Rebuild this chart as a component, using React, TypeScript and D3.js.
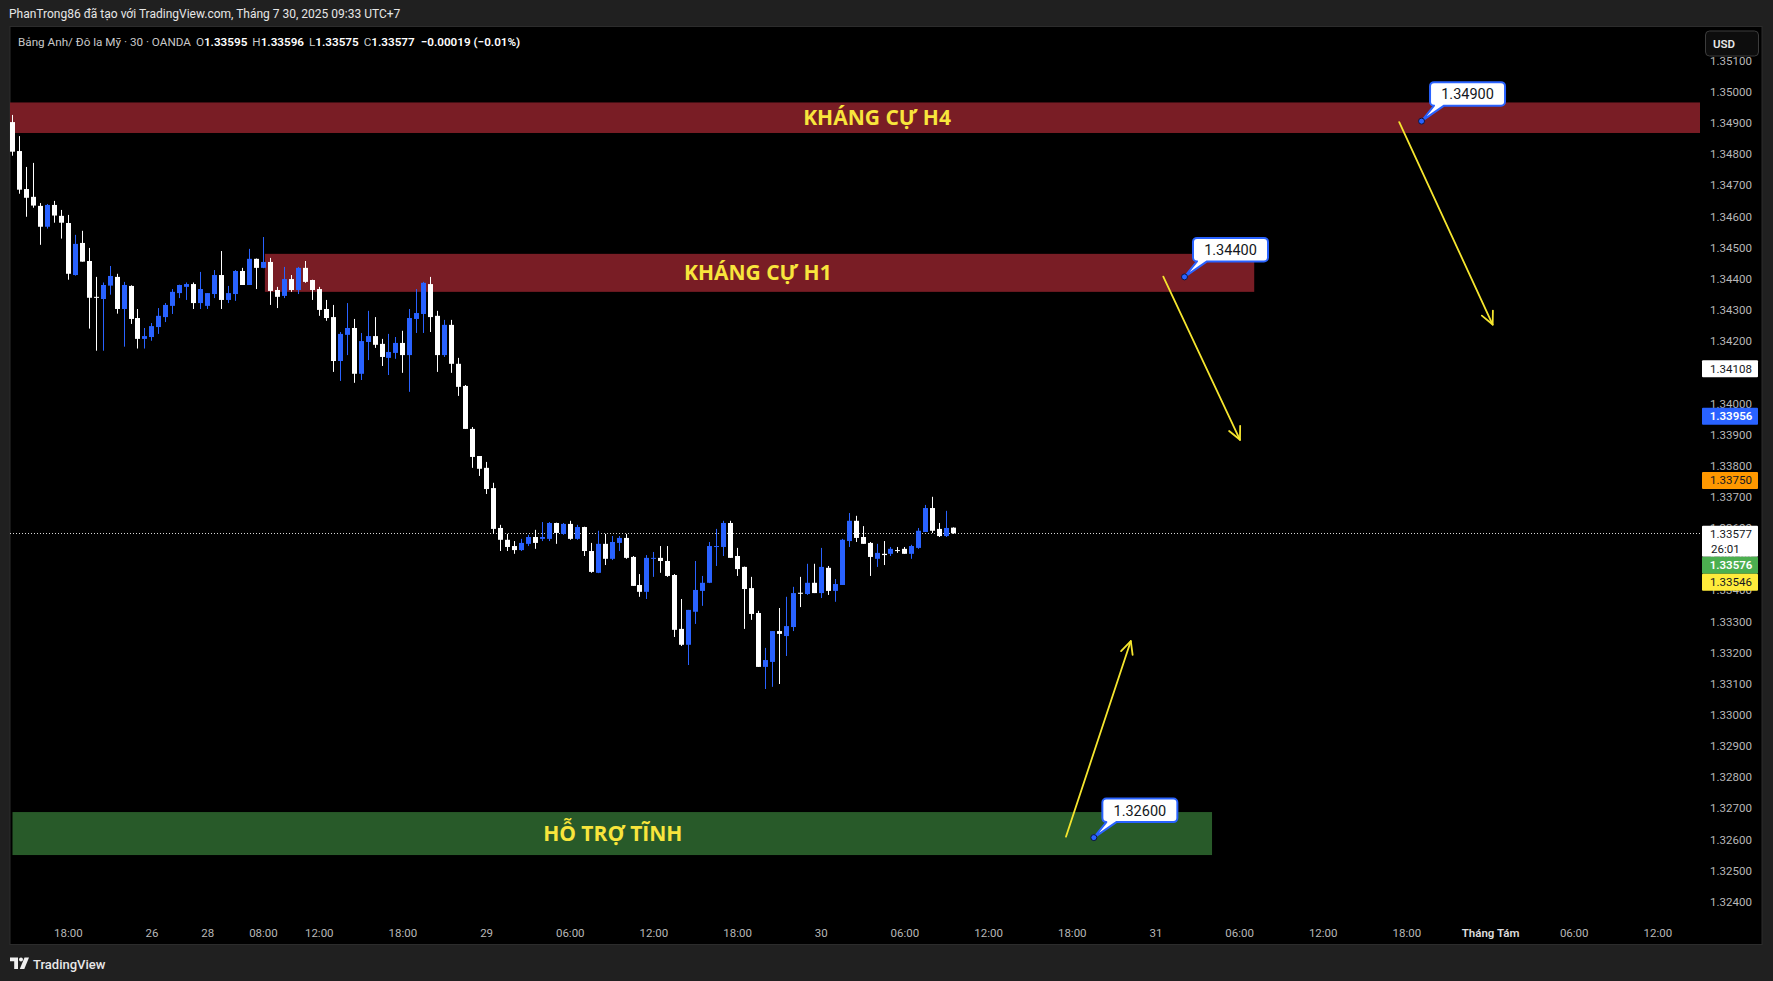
import React from "react";
import * as d3 from "d3";

// ---------- DATA ----------
const candleOpen = [
  1.34897, 1.34804, 1.34682, 1.34657, 1.34628, 1.34561, 1.34631, 1.34596, 1.34573, 1.34406,
  1.34509, 1.34451, 1.34336, 1.34329, 1.34372, 1.34400, 1.34297, 1.34371, 1.34268, 1.34201,
  1.34207, 1.34239, 1.34271, 1.34307, 1.34348, 1.34368, 1.34377, 1.34316, 1.34307, 1.34345,
  1.34406, 1.34326, 1.34345, 1.34419, 1.34374, 1.34458, 1.34429, 1.34448, 1.34358, 1.34339,
  1.34393, 1.34358, 1.34429, 1.34390, 1.34361, 1.34297, 1.34271, 1.34130, 1.34214, 1.34236,
  1.34089, 1.34191, 1.34210, 1.34185, 1.34140, 1.34156, 1.34188, 1.34149, 1.34265, 1.34281,
  1.34377, 1.34275, 1.34149, 1.34246, 1.34121, 1.34050, 1.33912, 1.33825, 1.33787, 1.33722,
  1.33594, 1.33556, 1.33536, 1.33523, 1.33543, 1.33565, 1.33559, 1.33559, 1.33610, 1.33575,
  1.33607, 1.33559, 1.33597, 1.33520, 1.33450, 1.33543, 1.33495, 1.33546, 1.33562, 1.33501,
  1.33411, 1.33389, 1.33495, 1.33498, 1.33488, 1.33443, 1.33270, 1.33219, 1.33325, 1.33392,
  1.33418, 1.33533, 1.33533, 1.33610, 1.33504, 1.33469, 1.33401, 1.33321, 1.33148, 1.33164,
  1.33263, 1.33247, 1.33276, 1.33386, 1.33382, 1.33418, 1.33385, 1.33466, 1.33392, 1.33411,
  1.33552, 1.33617, 1.33565, 1.33546, 1.33495, 1.33511, 1.33511, 1.33523, 1.33527, 1.33511,
  1.33530, 1.33581, 1.33658, 1.33591, 1.33568, 1.33595,
];
const candleHigh = [
  1.34920, 1.34852, 1.34753, 1.34766, 1.34637, 1.34634, 1.34644, 1.34615, 1.34599, 1.34535,
  1.34548, 1.34493, 1.34400, 1.34382, 1.34435, 1.34410, 1.34384, 1.34373, 1.34297, 1.34236,
  1.34252, 1.34300, 1.34316, 1.34361, 1.34375, 1.34382, 1.34382, 1.34416, 1.34348, 1.34422,
  1.34483, 1.34371, 1.34422, 1.34429, 1.34490, 1.34459, 1.34528, 1.34461, 1.34368, 1.34432,
  1.34406, 1.34432, 1.34451, 1.34391, 1.34368, 1.34326, 1.34310, 1.34223, 1.34316, 1.34265,
  1.34220, 1.34291, 1.34271, 1.34201, 1.34217, 1.34207, 1.34227, 1.34297, 1.34361, 1.34384,
  1.34400, 1.34291, 1.34262, 1.34262, 1.34140, 1.34053, 1.33918, 1.33825, 1.33806, 1.33739,
  1.33604, 1.33575, 1.33552, 1.33559, 1.33572, 1.33588, 1.33613, 1.33613, 1.33611, 1.33610,
  1.33617, 1.33604, 1.33598, 1.33546, 1.33585, 1.33575, 1.33568, 1.33568, 1.33575, 1.33504,
  1.33446, 1.33507, 1.33517, 1.33536, 1.33536, 1.33446, 1.33366, 1.33331, 1.33488, 1.33440,
  1.33549, 1.33591, 1.33617, 1.33617, 1.33530, 1.33470, 1.33437, 1.33328, 1.33209, 1.33263,
  1.33337, 1.33373, 1.33405, 1.33437, 1.33479, 1.33479, 1.33530, 1.33472, 1.33430, 1.33559,
  1.33642, 1.33633, 1.33600, 1.33549, 1.33543, 1.33552, 1.33533, 1.33533, 1.33533, 1.33540,
  1.33594, 1.33668, 1.33694, 1.33610, 1.33649, 1.33596,
];
const candleLow = [
  1.34789, 1.34667, 1.34593, 1.34622, 1.34503, 1.34555, 1.34574, 1.34523, 1.34391, 1.34404,
  1.34449, 1.34234, 1.34163, 1.34163, 1.34343, 1.34282, 1.34176, 1.34249, 1.34170, 1.34170,
  1.34195, 1.34217, 1.34255, 1.34281, 1.34332, 1.34326, 1.34297, 1.34297, 1.34297, 1.34332,
  1.34297, 1.34316, 1.34323, 1.34374, 1.34374, 1.34361, 1.34428, 1.34310, 1.34300, 1.34332,
  1.34352, 1.34345, 1.34381, 1.34326, 1.34275, 1.34259, 1.34095, 1.34066, 1.34149, 1.34060,
  1.34069, 1.34133, 1.34172, 1.34114, 1.34085, 1.34137, 1.34092, 1.34031, 1.34220, 1.34220,
  1.34223, 1.34095, 1.34143, 1.34092, 1.34018, 1.33912, 1.33787, 1.33761, 1.33703, 1.33575,
  1.33520, 1.33520, 1.33511, 1.33520, 1.33536, 1.33527, 1.33552, 1.33552, 1.33543, 1.33572,
  1.33556, 1.33556, 1.33504, 1.33450, 1.33449, 1.33475, 1.33491, 1.33520, 1.33495, 1.33408,
  1.33373, 1.33366, 1.33437, 1.33450, 1.33437, 1.33244, 1.33215, 1.33154, 1.33286, 1.33344,
  1.33417, 1.33472, 1.33504, 1.33498, 1.33440, 1.33270, 1.33299, 1.33148, 1.33077, 1.33084,
  1.33093, 1.33183, 1.33263, 1.33340, 1.33379, 1.33385, 1.33369, 1.33379, 1.33357, 1.33411,
  1.33533, 1.33549, 1.33543, 1.33440, 1.33469, 1.33475, 1.33504, 1.33514, 1.33511, 1.33495,
  1.33527, 1.33581, 1.33578, 1.33565, 1.33565, 1.33575,
];
const candleClose = [
  1.34802, 1.34680, 1.34654, 1.34629, 1.34561, 1.34631, 1.34597, 1.34574, 1.34410, 1.34506,
  1.34449, 1.34333, 1.34334, 1.34374, 1.34403, 1.34297, 1.34374, 1.34265, 1.34201, 1.34210,
  1.34242, 1.34275, 1.34310, 1.34352, 1.34374, 1.34377, 1.34316, 1.34361, 1.34348, 1.34406,
  1.34326, 1.34348, 1.34419, 1.34374, 1.34458, 1.34429, 1.34448, 1.34355, 1.34336, 1.34393,
  1.34358, 1.34429, 1.34384, 1.34358, 1.34294, 1.34268, 1.34130, 1.34217, 1.34236, 1.34089,
  1.34194, 1.34210, 1.34182, 1.34143, 1.34159, 1.34188, 1.34149, 1.34268, 1.34284, 1.34381,
  1.34271, 1.34149, 1.34246, 1.34121, 1.34047, 1.33912, 1.33822, 1.33784, 1.33719, 1.33591,
  1.33556, 1.33533, 1.33523, 1.33546, 1.33565, 1.33546, 1.33565, 1.33610, 1.33578, 1.33607,
  1.33559, 1.33597, 1.33520, 1.33453, 1.33543, 1.33495, 1.33549, 1.33562, 1.33498, 1.33408,
  1.33389, 1.33498, 1.33498, 1.33488, 1.33440, 1.33267, 1.33219, 1.33331, 1.33395, 1.33418,
  1.33536, 1.33536, 1.33610, 1.33498, 1.33462, 1.33398, 1.33318, 1.33148, 1.33170, 1.33263,
  1.33254, 1.33279, 1.33385, 1.33384, 1.33418, 1.33385, 1.33469, 1.33392, 1.33414, 1.33556,
  1.33617, 1.33562, 1.33543, 1.33501, 1.33514, 1.33507, 1.33527, 1.33520, 1.33511, 1.33536,
  1.33585, 1.33658, 1.33585, 1.33568, 1.33594, 1.33577,
];

const priceTicks = [
  1.351, 1.35, 1.349, 1.348, 1.347, 1.346, 1.345, 1.344, 1.343, 1.342, 1.341, 1.34, 1.339,
  1.338, 1.337, 1.336, 1.335, 1.334, 1.333, 1.332, 1.331, 1.33, 1.329, 1.328, 1.327, 1.326,
  1.325, 1.324,
];

const timeLabelBars = [8, 20, 28, 36, 44, 56, 68, 80, 92, 104, 116, 128, 140, 152, 164, 176, 188, 200, 212, 224, 236];
const timeLabelTexts = [
  "18:00", "26", "28", "08:00", "12:00", "18:00", "29", "06:00", "12:00", "18:00", "30",
  "06:00", "12:00", "18:00", "31", "06:00", "12:00", "18:00", "Tháng Tám", "06:00", "12:00",
];

const zoneLabels = ["KHÁNG CỰ H4", "KHÁNG CỰ H1", "HỖ TRỢ TĨNH"];
const zoneTop = [1.3496, 1.34474, 1.32682];
const zoneBottom = [1.34862, 1.34352, 1.32544];
const zoneStartBar = [-5, 36.2, 0];
const zoneEndBar = [250, 178.1, 172.05];
const zoneLabelBar = [124, 106.9, 86.1];

const calloutBars = [202.1, 168.1, 155.1];
const calloutPrices = [1.349, 1.344, 1.326];

const arrowStartBar = [198.9, 165.06, 151.1];
const arrowStartPrice = [1.34897, 1.34401, 1.32603];
const arrowEndBar = [212.3, 176.06, 160.4];
const arrowEndPrice = [1.34247, 1.33877, 1.33231];

const markerPrices = [1.34108, 1.33956, 1.3375, 1.33577, 1.33576, 1.33546];
const markerKinds = ["white", "blue", "orange", "last", "green", "yellow"];

const lastPrice = 1.33577;
const countdown = "26:01";

// ---------- STYLE ----------
const FONT = "Roboto, 'Noto Sans', Arial, sans-serif";
const PAGE_BG = "#202020";
const UP = "#2962ff";
const DOWN = "#ffffff";

const markerStyle: Record<string, { fill: string; text: string }> = {
  white: { fill: "#ffffff", text: "#131722" },
  blue: { fill: "#2962ff", text: "#ffffff" },
  orange: { fill: "#ff9800", text: "#131722" },
  last: { fill: "#ffffff", text: "#131722" },
  green: { fill: "#4caf50", text: "#ffffff" },
  yellow: { fill: "#ffeb3b", text: "#131722" },
};

export default function App() {
  const W = 1773;
  const H = 981;
  const paneL = 10;
  const paneR = 1700;
  const paneT = 27;
  const paneB = 915;

  const x = d3.scaleLinear().domain([0, 240]).range([12.5, 12.5 + 240 * 6.972]);
  const y = d3.scaleLinear().domain([1.324, 1.35]).range([899.9, 90]);

  // stacked price markers
  const boxH = 17;
  const order = markerPrices.map((p, i) => i).sort((a, b) => markerPrices[b] - markerPrices[a]);
  const markerTops: number[] = new Array(markerPrices.length).fill(0);
  let lastBottom = -Infinity;
  order.forEach((i) => {
    const h = markerKinds[i] === "last" ? 31 : boxH;
    let top = y(markerPrices[i]) - 7.5;
    if (top < lastBottom) top = lastBottom;
    markerTops[i] = top;
    lastBottom = top + h;
  });

  // tick labels entirely hidden behind a marker box are not drawn
  const visibleTicks = priceTicks.filter((p) => {
    const ty = y(p) + 2;
    return !markerPrices.some((mp, i) => {
      const h = markerKinds[i] === "last" ? 31 : boxH;
      return ty - 4 >= markerTops[i] && ty + 4 <= markerTops[i] + h;
    });
  });

  const arrowHead = (x1: number, y1: number, x2: number, y2: number) => {
    const ang = Math.atan2(y2 - y1, x2 - x1);
    const len = 14;
    const a1 = ang + Math.PI - 0.45;
    const a2 = ang + Math.PI + 0.45;
    return `M${x2 + len * Math.cos(a1)},${y2 + len * Math.sin(a1)} L${x2},${y2} L${x2 + len * Math.cos(a2)},${y2 + len * Math.sin(a2)}`;
  };

  const calloutPath = (dx: number, dy: number) => {
    const L = dx + 8.5;
    const B = dy - 15.5;
    const T = B - 23.5;
    const R = L + 75;
    const r = 4;
    return `M${L + r},${T} H${R - r} A${r},${r} 0 0 1 ${R},${T + r} V${B - r} A${r},${r} 0 0 1 ${R - r},${B} H${L + 14} L${dx},${dy} L${L + 4},${B} H${L + r} A${r},${r} 0 0 1 ${L},${B - r} V${T + r} A${r},${r} 0 0 1 ${L + r},${T} Z`;
  };

  return (
    <div style={{ position: "absolute", left: 0, top: 0 }}>
      <svg width={W} height={H} style={{ display: "block" }}>
        <defs>
          <clipPath id="pane">
            <rect x={paneL} y={paneT} width={paneR - paneL} height={paneB - paneT} />
          </clipPath>
        </defs>
        <rect x={0} y={0} width={W} height={H} fill={PAGE_BG} />
        <rect x={paneL} y={paneT - 0.5} width={1762 - paneL} height={945 - paneT} fill="#000" stroke="#2c2c2c" strokeWidth={1} />

        {/* header */}
        <text x={9} y={17.5} fill="#e6e6e6" fontFamily={FONT} fontSize={12}>
          PhanTrong86 đã tạo với TradingView.com, Tháng 7 30, 2025 09:33 UTC+7
        </text>

        <g clipPath="url(#pane)">
          {/* zones */}
          {zoneLabels.map((lab, i) => (
            <rect
              key={"z" + i}
              x={x(zoneStartBar[i])}
              y={y(zoneTop[i])}
              width={x(zoneEndBar[i]) - x(zoneStartBar[i])}
              height={y(zoneBottom[i]) - y(zoneTop[i])}
              fill={i === 2 ? "#285a29" : "#791d25"}
            />
          ))}
          {zoneLabels.map((lab, i) => (
            <text
              key={"zl" + i}
              x={x(zoneLabelBar[i])}
              y={(y(zoneTop[i]) + y(zoneBottom[i])) / 2 + 7.5}
              textAnchor="middle"
              fill="#f8e53c"
              fontFamily="'Open Sans', 'Noto Sans', sans-serif"
              fontWeight={700}
              fontSize={21}
            >
              {lab}
            </text>
          ))}

          {/* last price dotted line */}
          <line
            x1={paneL}
            x2={paneR}
            y1={Math.round(y(lastPrice)) + 0.5}
            y2={Math.round(y(lastPrice)) + 0.5}
            stroke="#d8d8d8"
            strokeWidth={1}
            strokeDasharray="1,2"
          />

          {/* candles */}
          {candleOpen.map((o, i) => {
            const c = candleClose[i];
            const up = c > o;
            const col = up ? UP : DOWN;
            const cx = x(i);
            const bx = Math.round(cx - 2.5);
            const top = Math.min(y(o), y(c));
            const bot = Math.max(y(o), y(c));
            const h = Math.max(1, bot - top);
            return (
              <g key={"c" + i}>
                <line x1={bx + 2.5} x2={bx + 2.5} y1={y(candleHigh[i])} y2={y(candleLow[i])} stroke={col} strokeWidth={1} />
                <rect x={bx} y={top} width={5} height={h} fill={col} />
              </g>
            );
          })}

          {/* arrows */}
          {arrowStartBar.map((b, i) => {
            const x1 = x(b);
            const y1 = y(arrowStartPrice[i]);
            const x2 = x(arrowEndBar[i]);
            const y2 = y(arrowEndPrice[i]);
            return (
              <g key={"a" + i} stroke="#f5e52e" strokeWidth={1.8} fill="none" strokeLinecap="round" strokeLinejoin="round">
                <line x1={x1} y1={y1} x2={x2} y2={y2} />
                <path d={arrowHead(x1, y1, x2, y2)} />
              </g>
            );
          })}

          {/* callouts */}
          {calloutBars.map((b, i) => {
            const dx = x(b);
            const dy = y(calloutPrices[i]);
            return (
              <g key={"co" + i}>
                <path d={calloutPath(dx, dy)} fill="#ffffff" stroke="#2962ff" strokeWidth={2} strokeLinejoin="round" />
                <circle cx={dx} cy={dy} r={3} fill="#2962ff" stroke="#0b1640" strokeWidth={1} />
                <text x={dx + 8.5 + 37.5} y={dy - 15.5 - 6.5} textAnchor="middle" fill="#131722" fontFamily={FONT} fontSize={14.5}>
                  {calloutPrices[i].toFixed(5)}
                </text>
              </g>
            );
          })}
        </g>

        {/* legend */}
        <text x={18} y={46} fontFamily={FONT} fontSize={11.7} fill="#c9c9c9">
          <tspan>Bảng Anh/ Đô la Mỹ · 30 · OANDA</tspan>
          <tspan dx={5}>O</tspan>
          <tspan fill="#ffffff" fontWeight={600}>{candleOpen[candleOpen.length - 1].toFixed(5)}</tspan>
          <tspan dx={5}>H</tspan>
          <tspan fill="#ffffff" fontWeight={600}>{candleHigh[candleHigh.length - 1].toFixed(5)}</tspan>
          <tspan dx={5}>L</tspan>
          <tspan fill="#ffffff" fontWeight={600}>{candleLow[candleLow.length - 1].toFixed(5)}</tspan>
          <tspan dx={5}>C</tspan>
          <tspan fill="#ffffff" fontWeight={600}>{candleClose[candleClose.length - 1].toFixed(5)}</tspan>
          <tspan dx={6} fill="#ffffff" fontWeight={600}>−0.00019 (−0.01%)</tspan>
        </text>

        {/* price axis ticks */}
        {visibleTicks.map((p) => (
          <text key={"pt" + p} x={1731} y={y(p) + 6} textAnchor="middle" fill="#b8b8b8" fontFamily={FONT} fontSize={11.5}>
            {p.toFixed(5)}
          </text>
        ))}

        {/* USD button */}
        <rect x={1705.5} y={31} width={53} height={25} rx={4} fill="#0d0d0d" stroke="#3c3c3c" strokeWidth={1} />
        <text x={1713} y={47.5} fill="#e8e8e8" fontFamily={FONT} fontSize={11.5} fontWeight={600}>
          USD
        </text>

        {/* price markers */}
        {markerPrices.map((p, i) => {
          const kind = markerKinds[i];
          const st = markerStyle[kind];
          const top = markerTops[i];
          const h = kind === "last" ? 31 : boxH;
          return (
            <g key={"m" + i}>
              <rect x={1702} y={top} width={56} height={h} fill={st.fill} rx={1} />
              <text x={1731} y={top + 12.5} textAnchor="middle" fill={st.text} fontFamily={FONT} fontSize={11.5} fontWeight={kind === "blue" || kind === "green" ? 600 : 400}>
                {p.toFixed(5)}
              </text>
              {kind === "last" && (
                <text x={1711} y={top + 27} fill={st.text} fontFamily={FONT} fontSize={11.5}>
                  {countdown}
                </text>
              )}
            </g>
          );
        })}

        {/* time axis */}
        {timeLabelBars.map((b, i) => (
          <text
            key={"tl" + i}
            x={x(b)}
            y={937}
            textAnchor="middle"
            fill={timeLabelTexts[i] === "Tháng Tám" ? "#dcdcdc" : "#b8b8b8"}
            fontWeight={timeLabelTexts[i] === "Tháng Tám" ? 600 : 400}
            fontFamily={FONT}
            fontSize={11.5}
          >
            {timeLabelTexts[i]}
          </text>
        ))}

        {/* footer logo */}
        <g fill="#f0f0f0">
          <path d="M10 957.5 H18 V969 H14.2 V961.2 H10 Z" />
          <circle cx={21} cy={959.5} r={2} />
          <path d="M24.5 957.5 H29 L24.3 969 H19.8 Z" />
        </g>
        <text x={33} y={968.5} fill="#e8e8e8" fontFamily={FONT} fontSize={13} fontWeight={500}>
          TradingView
        </text>
      </svg>
    </div>
  );
}
